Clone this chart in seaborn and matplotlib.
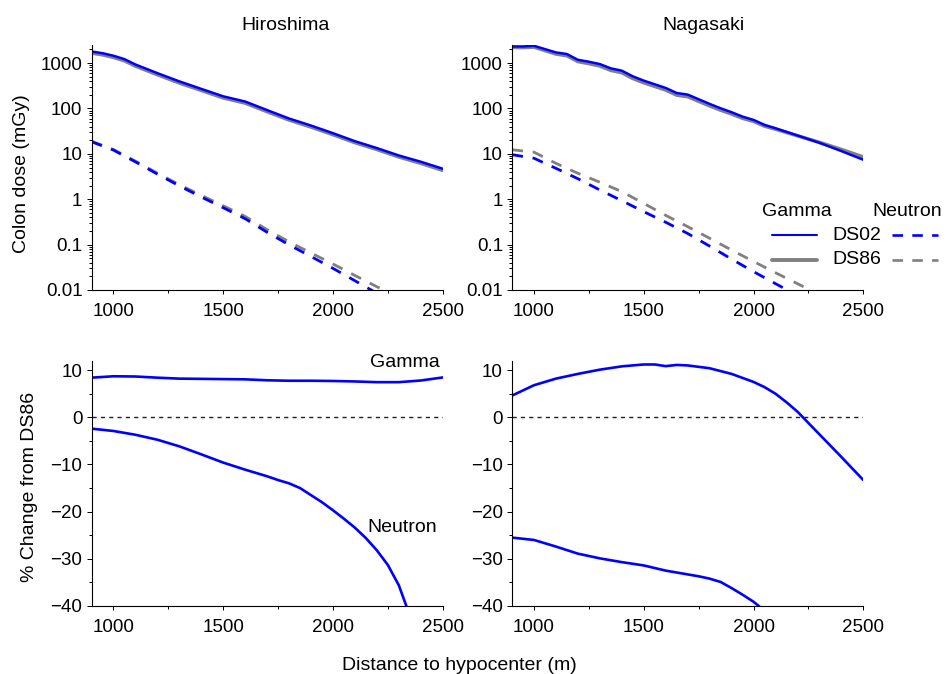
import numpy as np
import pandas as pd
import seaborn as sns
import matplotlib
matplotlib.use('Agg')
import matplotlib.pyplot as plt
from matplotlib.lines import Line2D
from matplotlib.ticker import FuncFormatter, MultipleLocator, LogLocator, NullFormatter

################################################################################
##############################   DATA (read off)   #############################
################################################################################

# Hiroshima colon dose (mGy)
hiro_gamma_x = [900, 950, 1000, 1050, 1100, 1200, 1300, 1400, 1500, 1600, 1700,
                1800, 1900, 2000, 2100, 2200, 2300, 2400, 2500]
hiro_gamma_ds02 = [1800, 1650, 1450, 1220, 930, 600, 395, 270, 185, 142, 92,
                   60, 42, 28.5, 19, 13.4, 9.2, 6.7, 4.7]
hiro_gamma_ds86 = [1665, 1525, 1335, 1125, 860, 555, 365, 250, 171, 131.5, 85,
                   55.7, 39, 26.5, 17.7, 12.5, 8.55, 6.2, 4.33]

hiro_neut_x = [900, 1000, 1100, 1200, 1300, 1400, 1500, 1600, 1700, 1800,
               1900, 2000, 2100, 2200, 2300]
hiro_neut_ds02 = [18.5, 12.1, 6.66, 3.58, 1.97, 1.12, 0.65, 0.372, 0.187, 0.099,
                  0.0547, 0.030, 0.016, 0.0085, 0.0045]
hiro_neut_ds86 = [18.95, 12.46, 6.92, 3.76, 2.10, 1.215, 0.719, 0.418, 0.214, 0.1153,
                  0.0654, 0.0374, 0.0209, 0.0118, 0.007]

# Nagasaki colon dose (mGy)
naga_gamma_x = [900, 950, 1000, 1050, 1100, 1150, 1200, 1250, 1300, 1350, 1400,
                1450, 1500, 1600, 1650, 1700, 1800, 1850, 1900, 1950, 2000,
                2050, 2100, 2200, 2300, 2400, 2500]
naga_gamma_ds02 = [2320, 2320, 2400, 2030, 1715, 1580, 1180, 1070, 950, 764, 680,
                   510, 410, 283, 219, 202, 126, 101, 82.6, 66, 56,
                   43.5, 36.7, 25.4, 17.5, 11.5, 7.4]
naga_gamma_ds86 = [2218, 2195, 2247, 1888, 1585, 1453, 1081, 975, 863, 691, 614,
                   459, 369, 255, 197, 182, 114, 92, 75.6, 60.8, 52.1,
                   40.9, 35, 25.0, 17.9, 12.5, 8.5]

naga_neut_x = [900, 1000, 1100, 1200, 1300, 1400, 1500, 1600, 1700, 1800,
               1900, 2000, 2100, 2200, 2300]
naga_neut_ds02 = [9.6, 8.0, 4.8, 2.83, 1.6, 0.93, 0.532, 0.311, 0.176, 0.0927,
                  0.048, 0.0254, 0.0138, 0.0076, 0.0042]
naga_neut_ds86 = [12.3, 10.9, 6.18, 3.73, 2.37, 1.47, 0.81, 0.441, 0.249, 0.138,
                  0.0759, 0.0426, 0.024, 0.0138, 0.0079]

# % change DS02 vs DS86
hiro_pct_gamma_x = [900, 1000, 1100, 1200, 1300, 1400, 1500, 1600, 1700, 1800,
                    1900, 2000, 2100, 2200, 2300, 2400, 2500]
hiro_pct_gamma = [8.4, 8.7, 8.65, 8.4, 8.2, 8.15, 8.1, 8.05, 7.85, 7.75,
                  7.75, 7.7, 7.6, 7.45, 7.45, 7.8, 8.45]
hiro_pct_neut_x = [900, 1000, 1100, 1200, 1300, 1400, 1500, 1600, 1700, 1750,
                   1800, 1850, 1900, 1950, 2000, 2050, 2100, 2150, 2200, 2250,
                   2300, 2350]
hiro_pct_neut = [-2.4, -2.9, -3.7, -4.75, -6.15, -7.85, -9.6, -11.1, -12.5, -13.3,
                 -14.0, -15.0, -16.5, -18.0, -19.7, -21.5, -23.4, -25.6, -28.2, -31.3,
                 -35.6, -42]

naga_pct_gamma_x = [900, 1000, 1100, 1200, 1300, 1400, 1500, 1550, 1600, 1650,
                    1700, 1800, 1850, 1900, 2000, 2050, 2100, 2150, 2200, 2250,
                    2300, 2400, 2500]
naga_pct_gamma = [4.6, 6.8, 8.2, 9.2, 10.1, 10.8, 11.2, 11.2, 10.85, 11.1,
                  11.0, 10.4, 9.8, 9.2, 7.5, 6.4, 5.0, 3.2, 1.2, -1.2,
                  -3.6, -8.4, -13.3]
naga_pct_neut_x = [900, 1000, 1100, 1200, 1300, 1400, 1500, 1600, 1700, 1750,
                   1800, 1850, 1900, 1950, 2000, 2050]
naga_pct_neut = [-25.5, -26.0, -27.4, -28.9, -29.9, -30.7, -31.4, -32.5, -33.3, -33.7,
                 -34.2, -34.9, -36.2, -37.6, -39.1, -41]

cities = ['Hiroshima', 'Nagasaki']
dose_ticks = [0.01, 0.1, 1, 10, 100, 1000]
dist_ticks = [1000, 1500, 2000, 2500]

################################################################################
################################################################################

BLUE = '#0000ff'
GRAY = '#808080'
DASH = (4, 3.5)


def draw(ax, x, y, color, lw, dashed=False):
    # one series through seaborn, no aggregation
    sns.lineplot(x=x, y=y, ax=ax, color=color, lw=lw, estimator=None, sort=False)
    if dashed:
        ax.lines[-1].set_dashes(DASH)


def style_axes(ax, log=False):
    ax.spines['top'].set_visible(False)
    ax.spines['right'].set_visible(False)
    for s in ['left', 'bottom']:
        ax.spines[s].set_linewidth(0.8)
        ax.spines[s].set_color('black')
    ax.set_xlim(900, 2500)
    ax.set_xticks(dist_ticks)
    ax.xaxis.set_minor_locator(MultipleLocator(250))
    ax.tick_params(which='both', direction='out', width=0.7, labelsize=13.5,
                   color='black', labelcolor='black')
    ax.tick_params(axis='x', which='major', length=3, pad=6)
    ax.tick_params(axis='x', which='minor', length=2.5)
    ax.tick_params(axis='y', which='major', length=3.5, pad=3)
    ax.tick_params(axis='y', which='minor', length=2)
    if log:
        ax.set_yscale('log')
        ax.set_ylim(0.01, 2500)
        ax.set_yticks(dose_ticks)
        ax.yaxis.set_major_formatter(FuncFormatter(lambda v, _: '{:g}'.format(v)))
        ax.yaxis.set_minor_locator(LogLocator(base=10, subs=np.arange(2, 10)))
        ax.yaxis.set_minor_formatter(NullFormatter())
    else:
        ax.set_ylim(-40, 12)
        ax.set_yticks([10, 0, -10, -20, -30, -40])
        ax.yaxis.set_minor_locator(MultipleLocator(5))
    ax.set_xlabel('')
    ax.set_ylabel('')


sns.set_style('ticks')
plt.rcParams['font.family'] = ['Liberation Sans', 'DejaVu Sans']
plt.rcParams['text.color'] = 'black'

fig = plt.figure(figsize=(9.47, 6.74), dpi=100)
W, H = 947.0, 674.0
# axes boxes from the reference (pixels)
ax_hd = fig.add_axes([91.5 / W, 1 - 290 / H, 351.2 / W, 245 / H])
ax_nd = fig.add_axes([512 / W, 1 - 290 / H, 351.3 / W, 245 / H])
ax_hp = fig.add_axes([91.5 / W, 1 - 606 / H, 351.2 / W, 245.3 / H])
ax_np = fig.add_axes([512 / W, 1 - 606 / H, 351.3 / W, 245.3 / H])

# top row: colon dose
draw(ax_hd, hiro_gamma_x, hiro_gamma_ds86, GRAY, 2.6)
draw(ax_hd, hiro_gamma_x, hiro_gamma_ds02, BLUE, 1.8)
draw(ax_hd, hiro_neut_x, hiro_neut_ds86, GRAY, 2.0, dashed=True)
draw(ax_hd, hiro_neut_x, hiro_neut_ds02, BLUE, 2.0, dashed=True)

draw(ax_nd, naga_gamma_x, naga_gamma_ds86, GRAY, 2.6)
draw(ax_nd, naga_gamma_x, naga_gamma_ds02, BLUE, 1.8)
draw(ax_nd, naga_neut_x, naga_neut_ds86, GRAY, 2.0, dashed=True)
draw(ax_nd, naga_neut_x, naga_neut_ds02, BLUE, 2.0, dashed=True)

# bottom row: % change
for ax in [ax_hp, ax_np]:
    ax.axhline(0, color='#222222', lw=1.0, dashes=(3, 3), zorder=1)
draw(ax_hp, hiro_pct_gamma_x, hiro_pct_gamma, BLUE, 1.9)
draw(ax_hp, hiro_pct_neut_x, hiro_pct_neut, BLUE, 1.9)
draw(ax_np, naga_pct_gamma_x, naga_pct_gamma, BLUE, 1.9)
draw(ax_np, naga_pct_neut_x, naga_pct_neut, BLUE, 1.9)

for ax in [ax_hd, ax_nd]:
    style_axes(ax, log=True)
for ax in [ax_hp, ax_np]:
    style_axes(ax, log=False)

# curve labels in the Hiroshima % panel
ax_hp.text(2488, 11.7, 'Gamma', ha='right', va='center', fontsize=14)
ax_hp.text(2473, -23.3, 'Neutron', ha='right', va='center', fontsize=14)

# titles and axis labels
fig.text(285.8 / W, 1 - 30 / H, cities[0], ha='center', va='baseline', fontsize=14)
fig.text(703 / W, 1 - 30 / H, cities[1], ha='center', va='baseline', fontsize=14)
fig.text(22 / W, 1 - 174 / H, 'Colon dose (mGy)', rotation=90,
         ha='center', va='center', fontsize=14)
fig.text(30 / W, 1 - 486.7 / H, '% Change from DS86', rotation=90,
         ha='center', va='center', fontsize=14)
fig.text(459.5 / W, 1 - 670 / H, 'Distance to hypocenter (m)',
         ha='center', va='baseline', fontsize=14)

# hand-made legend (Gamma | system | Neutron)
fig.text(796.7 / W, 1 - 211.7 / H, 'Gamma', ha='center', va='center', fontsize=14)
fig.text(907.5 / W, 1 - 211.7 / H, 'Neutron', ha='center', va='center', fontsize=14)
for name, color, lw, yy in [('DS02', BLUE, 1.5, 235), ('DS86', GRAY, 2.8, 260)]:
    fy = 1 - yy / H
    fig.add_artist(Line2D([771.7 / W, 817.3 / W], [fy, fy], color=color, lw=lw))
    fig.text(857.3 / W, fy, name, ha='center', va='center', fontsize=14)
    fig.add_artist(Line2D([892.3 / W, 938.3 / W], [fy, fy], color=color, lw=1.9,
                          dashes=DASH))

fig.savefig('out.png', dpi=100)
